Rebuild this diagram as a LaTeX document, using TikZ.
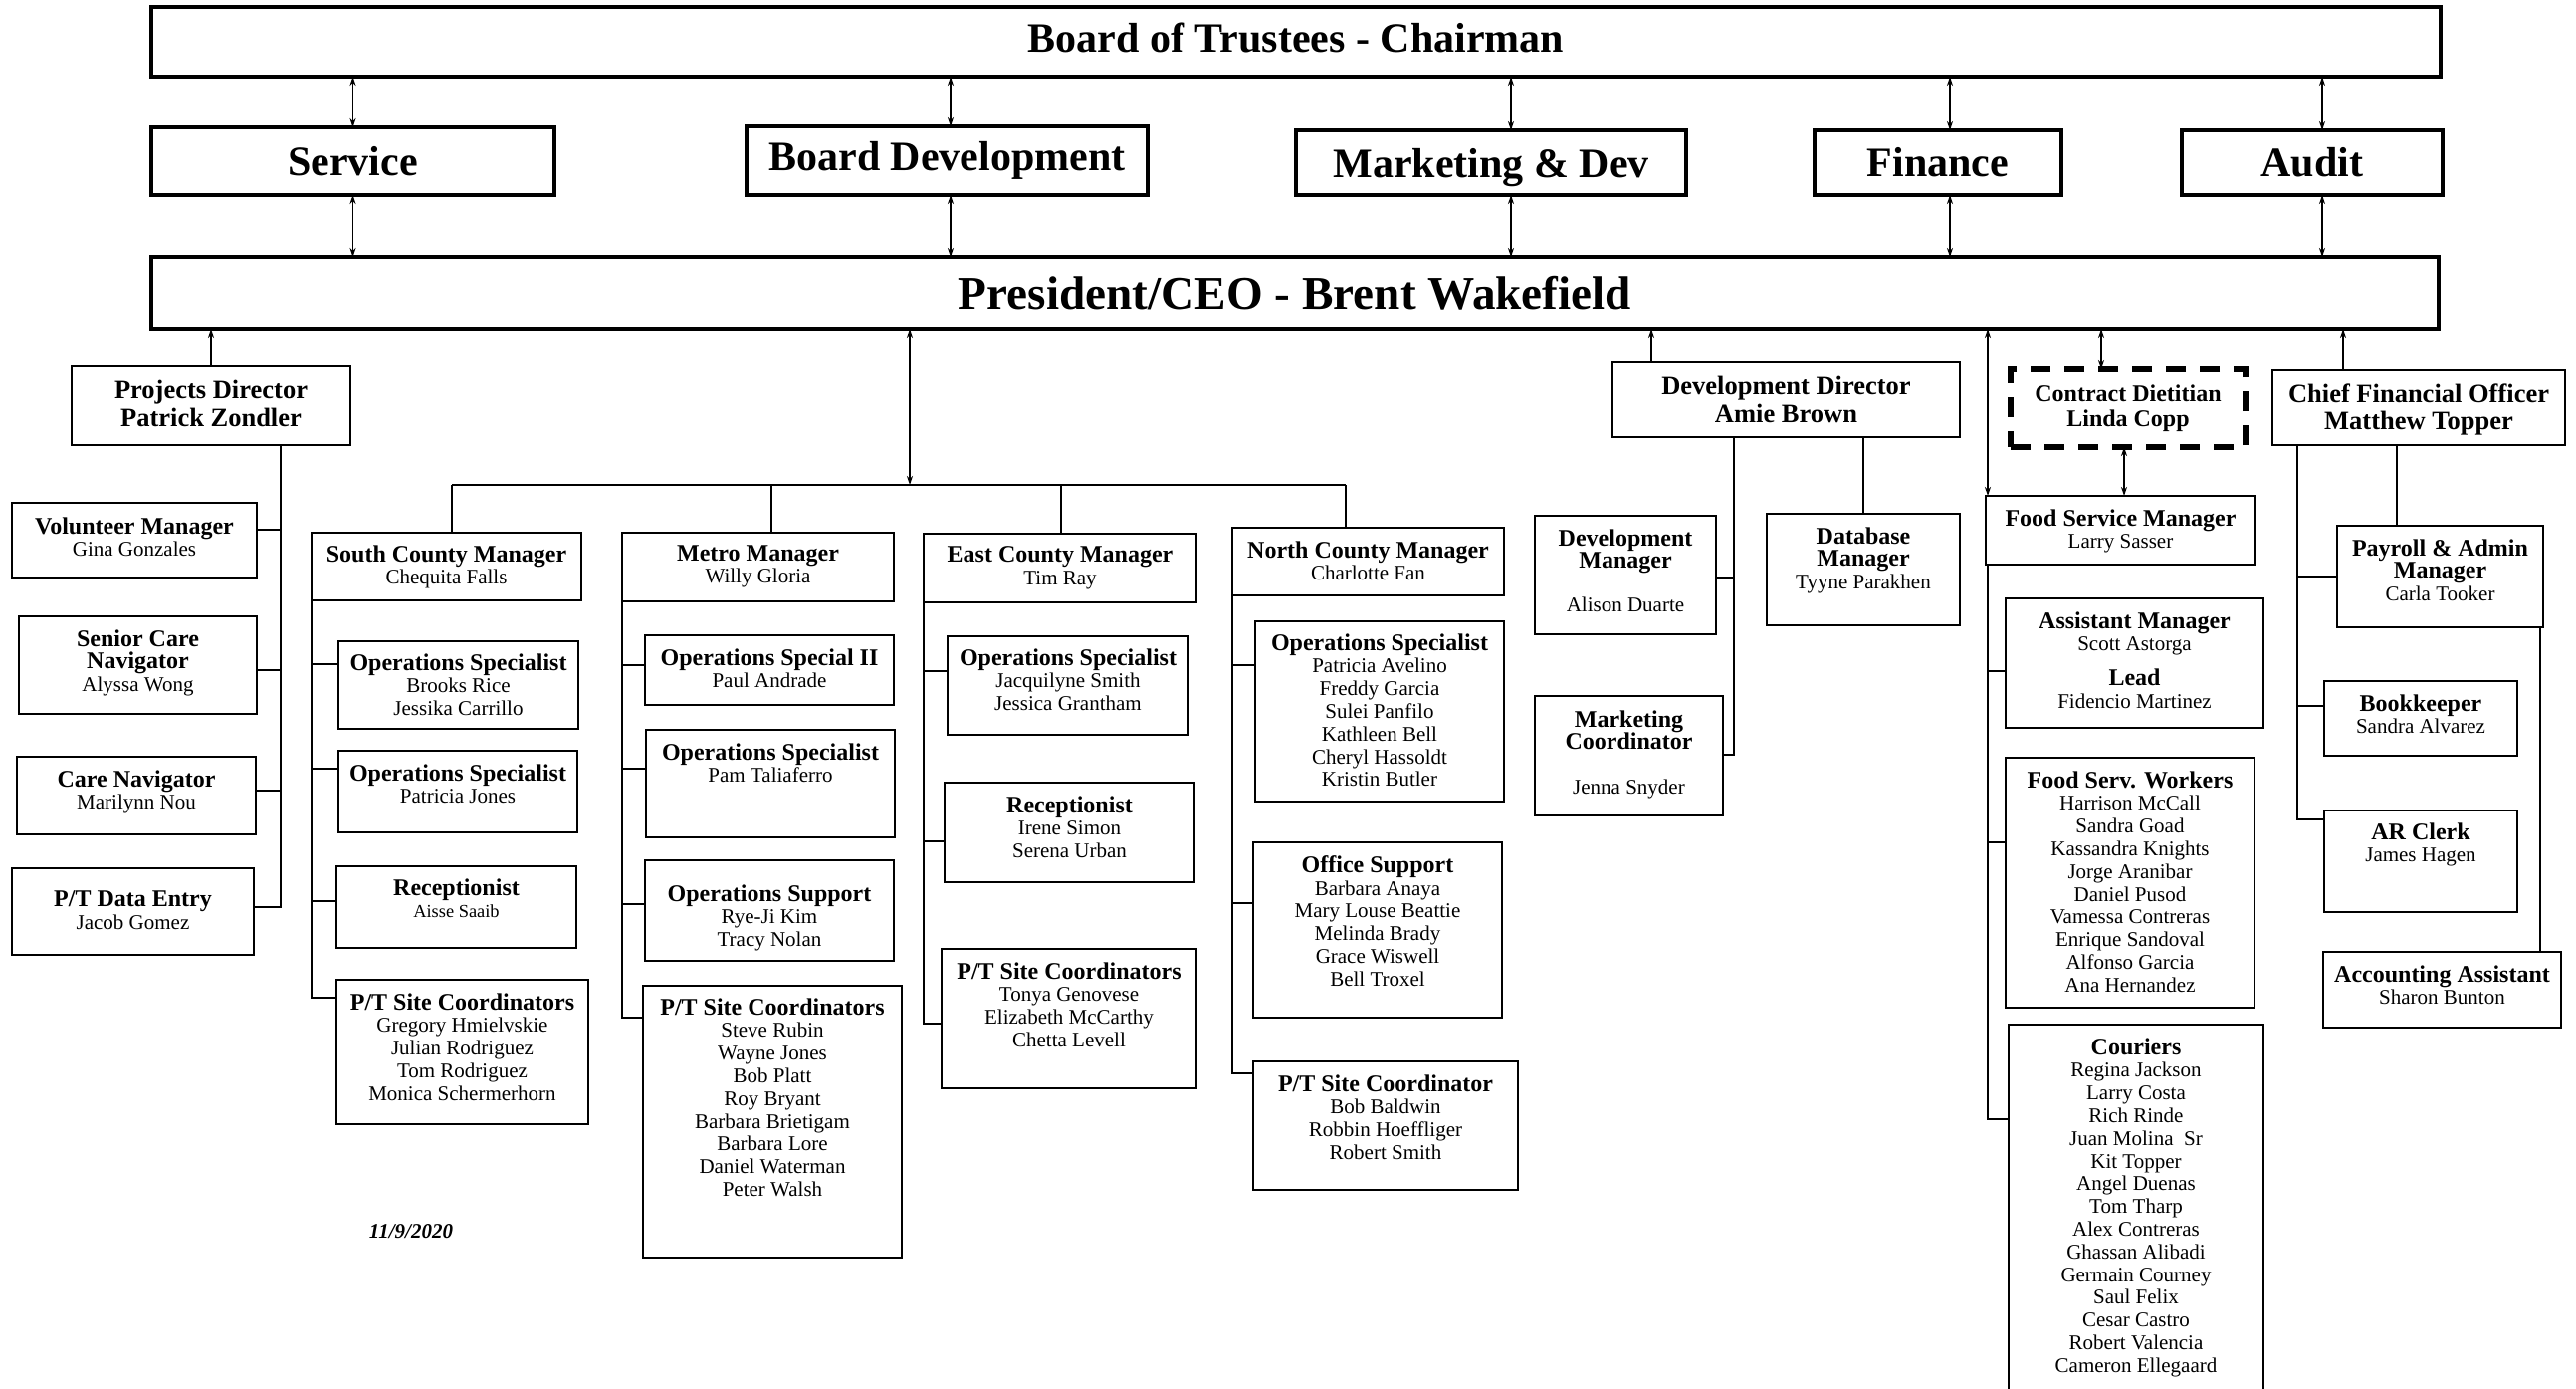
\documentclass[tikz,border=0pt]{standalone}
\usepackage{fontspec}
\setmainfont{Liberation Serif}
\usetikzlibrary{arrows.meta}

% body text of the unit boxes and the bold job titles inside them
\newcommand\nfont{\fontsize{10.5}{11.4}\selectfont}
\newcommand\jobtitle[1]{{\bfseries\fontsize{12}{11.4}\selectfont #1}}
\newcommand\smallname[1]{{\fontsize{9.2}{11.4}\selectfont #1}}

\tikzset{
  unit/.style={draw, line width=1pt, inner sep=0pt, outer sep=0pt},
  unit text/.style={align=center, inner sep=0pt, font=\nfont},
  head/.style={draw, line width=1.1pt, inner sep=0pt, outer sep=0pt},
  head text/.style={align=center, inner sep=0pt, font=\bfseries\fontsize{13.25}{13.75}\selectfont},
  dashunit/.style={draw, line width=2.6pt, dash pattern=on 10pt off 7pt, inner sep=0pt, outer sep=0pt},
  dashunit text/.style={align=center, inner sep=0pt, font=\bfseries\fontsize{12}{12.5}\selectfont},
  boardbox/.style={draw, line width=1.6pt, inner sep=0pt, outer sep=0pt, font=\bfseries\fontsize{21}{24}\selectfont},
  ceobox/.style={boardbox, font=\bfseries\fontsize{23.6}{26}\selectfont},
  biarr/.style={line width=0.7pt, {Stealth[length=4.5pt,width=3pt]}-{Stealth[length=4.5pt,width=3pt]}},
  uparr/.style={line width=0.7pt, -{Stealth[length=4.5pt,width=3pt]}},
  link/.style={line width=1.1pt},
  busline/.style={line width=1.3pt},
}

% \orgbox[text offset]{style}{name}{x1}{y1}{x2}{y2}{text}: box with text hung from its top
\newcommand\orgbox[8][12]{%
  \node[#2, anchor=north west, minimum width={(#6-#4)*0.5pt}, minimum height={(#7-#5)*0.5pt}] (#3) at (#4,#5) {};
  \node[#2 text, anchor=north] (#3-t) at ([yshift={-(#1)*0.5pt}]#3.north) {#8};}
% \cbox{style}{name}{x1}{y1}{x2}{y2}{text}: box with centred text
\newcommand\cbox[7]{%
  \node[#1, minimum width={(#5-#3)*0.5pt}, minimum height={(#6-#4)*0.5pt}] (#2) at ({(#3+#5)/2},{(#4+#6)/2}) {#7};}

\begin{document}
\begin{tikzpicture}[x=0.5pt, y=-0.5pt]
\useasboundingbox (0,0) rectangle (2588,1394);
\fill[white] (0,0) rectangle (2588,1394);

% ---------------- governance ----------------
\cbox{boardbox, text depth=4pt}{board}{152}{7}{2452}{77}{Board of Trustees - Chairman}
\cbox{boardbox}{svc}{152}{128}{557}{196}{Service}
\cbox{boardbox}{bdev}{750}{127}{1153}{196}{Board Development}
\cbox{boardbox, text depth=0pt}{mkt}{1302}{131}{1694}{196}{Marketing \& Dev}
\cbox{boardbox}{fin}{1823}{131}{2071}{196}{Finance}
\cbox{boardbox}{aud}{2192}{131}{2454}{196}{Audit}
\cbox{ceobox}{ceo}{152}{258}{2450}{330}{President/CEO - Brent Wakefield}

\coordinate (xbd) at (955,0);
\coordinate (xmk) at (1518,0);
\coordinate (xfi) at (1959,0);
\coordinate (xau) at (2333,0);
\draw[biarr] (board.south -| svc.north) -- (svc.north);
\draw[biarr] (svc.south) -- (ceo.north -| svc.south);
\draw[biarr] (board.south -| xbd) -- (bdev.north -| xbd);
\draw[biarr] (bdev.south -| xbd) -- (ceo.north -| xbd);
\draw[biarr] (board.south -| xmk) -- (mkt.north -| xmk);
\draw[biarr] (mkt.south -| xmk) -- (ceo.north -| xmk);
\draw[biarr] (board.south -| xfi) -- (fin.north -| xfi);
\draw[biarr] (fin.south -| xfi) -- (ceo.north -| xfi);
\draw[biarr] (board.south -| xau) -- (aud.north -| xau);
\draw[biarr] (aud.south -| xau) -- (ceo.north -| xau);

% ---------------- projects ----------------
\orgbox[14]{head}{pd}{72}{368}{352}{447}{Projects Director\\Patrick Zondler}
\orgbox[14]{unit}{vol}{12}{505}{258}{580}{\jobtitle{Volunteer Manager}\\Gina Gonzales}
\orgbox[13]{unit}{scn}{19}{619}{258}{717}{\jobtitle{Senior Care}\\\jobtitle{Navigator}\\Alyssa Wong}
\orgbox[13]{unit}{cn}{17}{760}{257}{838}{\jobtitle{Care Navigator}\\Marilynn Nou}
\orgbox[22]{unit}{pde}{12}{872}{255}{959}{\jobtitle{P/T Data Entry}\\Jacob Gomez}

\draw[uparr] (pd.north) -- (ceo.south -| pd.north);
\coordinate (xpd) at (282,0);
\draw[link] (pd.south -| xpd) |- ([yshift=-13.5pt]vol.north east);
\draw[link] (pd.south -| xpd) |- ([yshift=-27pt]scn.north east);
\draw[link] (pd.south -| xpd) |- ([yshift=-17pt]cn.north east);
\draw[link] (pd.south -| xpd) |- ([yshift=-19.5pt]pde.north east);

% ---------------- county programs ----------------
\coordinate (dS) at (454,487);
\coordinate (dM) at (775,487);
\coordinate (dC) at (914,487);
\coordinate (dE) at (1066,487);
\coordinate (dN) at (1352,487);

\orgbox{unit}{scm}{313}{535}{584}{603}{\jobtitle{South County Manager}\\Chequita Falls}
\orgbox{unit}{s1}{340}{644}{581}{732}{\jobtitle{Operations Specialist}\\Brooks Rice\\Jessika Carrillo}
\orgbox[13]{unit}{s2}{340}{754}{580}{836}{\jobtitle{Operations Specialist}\\Patricia Jones}
\orgbox{unit}{s3}{338}{870}{579}{952}{\jobtitle{Receptionist}\\\smallname{Aisse Saaib}}
\orgbox[13]{unit}{s4}{338}{984}{591}{1129}{\jobtitle{P/T Site Coordinators}\\Gregory Hmielvskie\\Julian Rodriguez\\Tom Rodriguez\\Monica Schermerhorn}

\orgbox{unit}{mm}{625}{535}{898}{604}{\jobtitle{Metro Manager}\\Willy Gloria}
\orgbox[13]{unit}{m1}{648}{638}{898}{708}{\jobtitle{Operations Special II}\\Paul Andrade}
\orgbox[13]{unit}{m2}{649}{733}{899}{841}{\jobtitle{Operations Specialist}\\Pam Taliaferro}
\orgbox[24]{unit}{m3}{648}{864}{898}{965}{\jobtitle{Operations Support}\\Rye-Ji Kim\\Tracy Nolan}
\orgbox{unit}{m4}{646}{990}{906}{1263}{\jobtitle{P/T Site Coordinators}\\Steve Rubin\\Wayne Jones\\Bob Platt\\Roy Bryant\\Barbara Brietigam\\Barbara Lore\\Daniel Waterman\\Peter Walsh}

\orgbox{unit}{em}{928}{536}{1202}{605}{\jobtitle{East County Manager}\\Tim Ray}
\orgbox{unit}{e1}{952}{639}{1194}{738}{\jobtitle{Operations Specialist}\\Jacquilyne Smith\\Jessica Grantham}
\orgbox[13]{unit}{e2}{949}{786}{1200}{886}{\jobtitle{Receptionist}\\Irene Simon\\Serena Urban}
\orgbox[13]{unit}{e3}{946}{953}{1202}{1093}{\jobtitle{P/T Site Coordinators}\\Tonya Genovese\\Elizabeth McCarthy\\Chetta Levell}

\orgbox[13]{unit}{nm}{1238}{530}{1511}{598}{\jobtitle{North County Manager}\\Charlotte Fan}
\orgbox{unit}{n1}{1261}{624}{1511}{805}{\jobtitle{Operations Specialist}\\Patricia Avelino\\Freddy Garcia\\Sulei Panfilo\\Kathleen Bell\\Cheryl Hassoldt\\Kristin Butler}
\orgbox[13]{unit}{n2}{1259}{846}{1509}{1022}{\jobtitle{Office Support}\\Barbara Anaya\\Mary Louse Beattie\\Melinda Brady\\Grace Wiswell\\Bell Troxel}
\orgbox[13]{unit}{n3}{1259}{1066}{1525}{1195}{\jobtitle{P/T Site Coordinator}\\Bob Baldwin\\Robbin Hoeffliger\\Robert Smith}

\draw[biarr] (ceo.south -| dC) -- (dC);
\draw[busline] (dS) -- (dN);
\draw[link] (dS) -- (scm.north -| dS);
\draw[link] (dM) -- (mm.north -| dM);
\draw[link] (dE) -- (em.north -| dE);
\draw[link] (dN) -- (nm.north -| dN);

\draw[link] (scm.south west) |- ([yshift=-11.5pt]s1.north west);
\draw[link] (scm.south west) |- ([yshift=-9pt]s2.north west);
\draw[link] (scm.south west) |- ([yshift=-17.5pt]s3.north west);
\draw[link] (scm.south west) |- ([yshift=-9pt]s4.north west);

\draw[link] (mm.south west) |- ([yshift=-15pt]m1.north west);
\draw[link] (mm.south west) |- ([yshift=-19.5pt]m2.north west);
\draw[link] (mm.south west) |- ([yshift=-22pt]m3.north west);
\draw[link] (mm.south west) |- ([yshift=-16pt]m4.north west);

\draw[link] (em.south west) |- ([yshift=-17.5pt]e1.north west);
\draw[link] (em.south west) |- ([yshift=-29.5pt]e2.north west);
\draw[link] (em.south west) |- ([yshift=-37.5pt]e3.north west);

\draw[link] (nm.south west) |- ([yshift=-22pt]n1.north west);
\draw[link] (nm.south west) |- ([yshift=-30.5pt]n2.north west);
\draw[link] (nm.south west) |- ([yshift=-6pt]n3.north west);

\node[font=\bfseries\itshape\nfont] (date) at (413,1237) {11/9/2020};

% ---------------- development ----------------
\orgbox[14]{head}{devdir}{1620}{364}{1969}{439}{Development Director\\Amie Brown}
\orgbox[13]{unit}{dm}{1542}{518}{1724}{637}{\jobtitle{Development}\\\jobtitle{Manager}\\[10.5pt]Alison Duarte}
\orgbox[14]{unit}{mc}{1542}{699}{1731}{819}{\jobtitle{Marketing}\\\jobtitle{Coordinator}\\[11pt]Jenna Snyder}
\orgbox[13]{unit}{db}{1775}{516}{1969}{628}{\jobtitle{Database}\\\jobtitle{Manager}\\Tyyne Parakhen}

\coordinate (xdd) at (1659,0);
\coordinate (xdv) at (1742,0);
\draw[uparr] (devdir.north -| xdd) -- (ceo.south -| xdd);
\draw[link] (devdir.south -| xdv) |- ([yshift=-31pt]dm.north east);
\draw[link] (devdir.south -| xdv) |- ([yshift=-29.5pt]mc.north east);
\draw[link] (devdir.south -| db.north) -- (db.north);

% ---------------- food service ----------------
\orgbox[15]{dashunit}{diet}{2020}{371}{2256}{449}{Contract Dietitian\\Linda Copp}
\orgbox[13]{unit}{fsm}{1995}{498}{2266}{567}{\jobtitle{Food Service Manager}\\Larry Sasser}
\orgbox[13]{unit}{am}{2015}{601}{2274}{731}{\jobtitle{Assistant Manager}\\Scott Astorga\\[6pt]\jobtitle{Lead}\\Fidencio Martinez}
\orgbox[13]{unit}{fw}{2015}{761}{2265}{1012}{\jobtitle{Food Serv. Workers}\\Harrison McCall\\Sandra Goad\\Kassandra Knights\\Jorge Aranibar\\Daniel Pusod\\Vamessa Contreras\\Enrique Sandoval\\Alfonso Garcia\\Ana Hernandez}
\orgbox[13]{unit}{cou}{2018}{1029}{2274}{1398}{\jobtitle{Couriers}\\Regina Jackson\\Larry Costa\\Rich Rinde\\Juan Molina\ \ Sr\\Kit Topper\\Angel Duenas\\Tom Tharp\\Alex Contreras\\Ghassan Alibadi\\Germain Courney\\Saul Felix\\Cesar Castro\\Robert Valencia\\Cameron Ellegaard}

\coordinate (xfs) at (1997,0);
\coordinate (xdt) at (2111,0);
\coordinate (xdf) at (2134,0);
\draw[biarr] (fsm.north -| xfs) -- (ceo.south -| xfs);
\draw[biarr] (diet.north -| xdt) -- (ceo.south -| xdt);
\draw[biarr] (diet.south -| xdf) -- (fsm.north -| xdf);
\draw[link] (fsm.south -| xfs) |- ([yshift=-36.5pt]am.north west);
\draw[link] (fsm.south -| xfs) |- ([yshift=-42.5pt]fw.north west);
\draw[link] (fsm.south -| xfs) |- ([yshift=-47.5pt]cou.north west);

% ---------------- finance ----------------
\orgbox[13]{head}{cfo}{2283}{372}{2577}{447}{Chief Financial Officer\\Matthew Topper}
\orgbox[13]{unit}{pay}{2348}{528}{2555}{630}{\jobtitle{Payroll \& Admin}\\\jobtitle{Manager}\\Carla Tooker}
\orgbox[13]{unit}{bk}{2335}{684}{2529}{759}{\jobtitle{Bookkeeper}\\Sandra Alvarez}
\orgbox{unit}{ar}{2335}{814}{2529}{916}{\jobtitle{AR Clerk}\\James Hagen}
\orgbox[13]{unit}{aa}{2334}{956}{2573}{1032}{\jobtitle{Accounting Assistant}\\Sharon Bunton}

\coordinate (xcf) at (2354,0);
\coordinate (xcl) at (2308,0);
\coordinate (xcp) at (2408,0);
\coordinate (xpa) at (2552,0);
\draw[uparr] (cfo.north -| xcf) -- (ceo.south -| xcf);
\draw[link] (cfo.south -| xcp) -- (pay.north -| xcp);
\draw[link] (cfo.south -| xcl) |- ([yshift=-25.5pt]pay.north west);
\draw[link] (cfo.south -| xcl) |- ([yshift=-12.5pt]bk.north west);
\draw[link] (cfo.south -| xcl) |- ([yshift=-4.5pt]ar.north west);
\draw[link] (pay.south -| xpa) -- (aa.north -| xpa);
\end{tikzpicture}
\end{document}
